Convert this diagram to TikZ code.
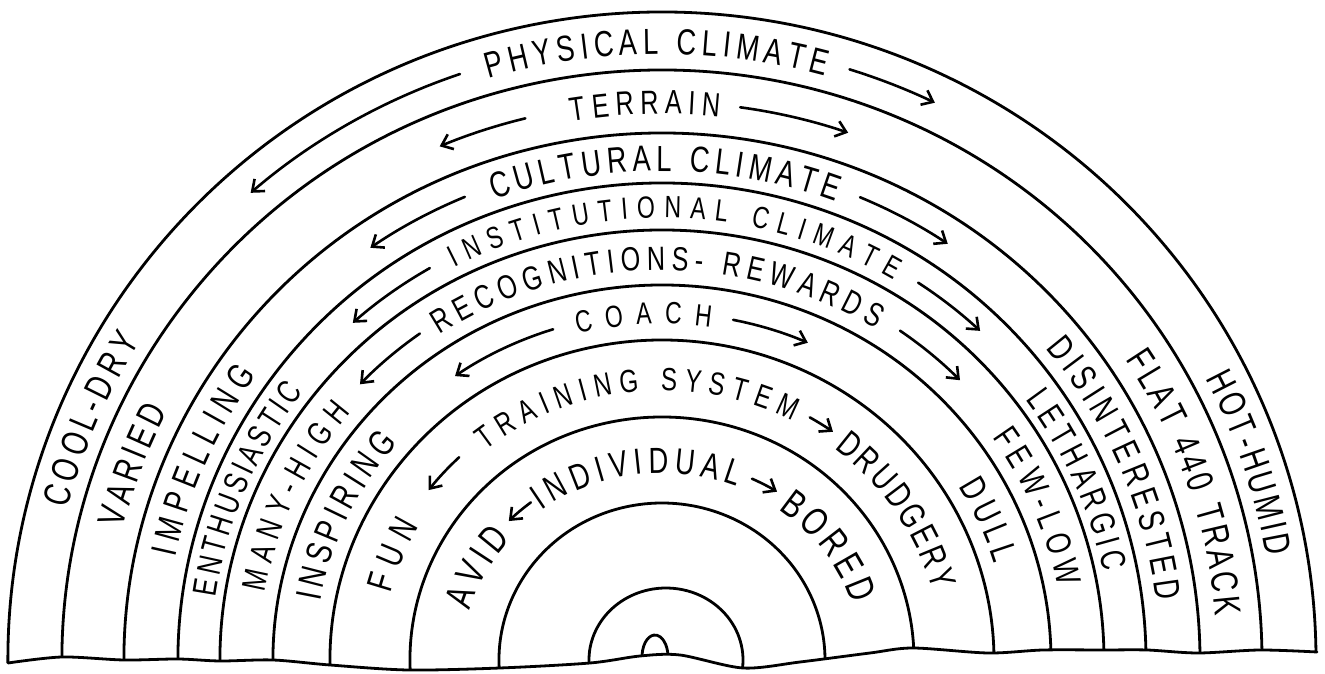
\documentclass[tikz,border=0pt]{standalone}
\usepackage{fontspec}
\setmainfont{Liberation Sans}[FakeStretch=0.75]
\usetikzlibrary{decorations.text,arrows.meta}
\tikzset{
  ring/.style={line width=2.8pt, line cap=round, line join=round},
  arr/.style={line width=2.6pt, line cap=round, -{Straight Barb[length=10pt,width=16pt]}},
}
\newcommand\ringlabel[6]{%
  \pgfmathsetmacro\rlx{#1-#5/2}\pgfmathsetmacro\rly{#2-#5/2}\pgfmathsetmacro\rlf{#5/0.716}%
  \path[decorate,decoration={text along path,text align={fit to path},
     text={|\fontsize{\rlf pt}{\rlf pt}\selectfont|#6}}]
     (#3:\rlx pt and \rly pt) arc[start angle=#3,end angle=#4,x radius=\rlx pt,y radius=\rly pt];}
\newcommand\ringarrow[4]{%
  \draw[arr] (#3:#1pt and #2pt) arc[start angle=#3,end angle=#4,x radius=#1pt,y radius=#2pt];}
\newcommand\ringarc[2]{%
  \draw[ring] (190:#1pt and #2pt) arc[start angle=190,end angle=-10,x radius=#1pt,y radius=#2pt];}
\begin{document}
\begin{tikzpicture}[x=1pt,y=1pt]
\useasboundingbox (0,0) rectangle (1325,674);
\begin{scope}
  \clip (0,674) -- (0,11) -- plot[smooth] coordinates {(8,11) (62,17) (124,14) (178,15) (220,13) (273,14) (330,9) (408,4) (500,6) (590,11) (640,18) (680,19) (743,6) (800,12) (870,21) (913,26) (988,21) (1043,24) (1103,24) (1147,24) (1198,21) (1260,24) (1317,22)} -- (1325,22) -- (1325,674) -- cycle;
  \begin{scope}[shift={(662,14)}]
    \ringarc{654}{648}
    \ringarc{600}{590}
    \ringarc{538}{527}
    \ringarc{484}{477}
    \ringarc{442}{430}
    \ringarc{389}{375}
    \ringarc{332}{320}
    \ringarc{252}{243}
    \ringarc{163}{157}
  \end{scope}
  \begin{scope}[shift={(666,14)}]
    \ringarc{77}{72}
  \end{scope}
  \begin{scope}[shift={(655,17)}]
    \draw[ring] (185:13pt and 22pt) arc[start angle=185,end angle=-5,x radius=13pt,y radius=22pt];
  \end{scope}
\end{scope}
\draw[ring] plot[smooth] coordinates {(8,11) (62,17) (124,14) (178,15) (220,13) (273,14) (330,9) (408,4) (500,6) (590,11) (640,18) (680,19) (743,6) (800,12) (870,21) (913,26) (988,21) (1043,24) (1103,24) (1147,24) (1198,21) (1260,24) (1317,22)};
\begin{scope}[shift={(662,14)}]
  \ringlabel{627}{619}{106.4}{74.6}{26}{PHYSICAL CLIMATE}
  \ringlabel{627}{619}{165.5}{148.3}{27}{COOL-DRY}
  \ringlabel{627}{619}{27.7}{9.8}{27}{HOT-HUMID}
  \ringlabel{569}{558}{99.3}{84.1}{24}{TERRAIN}
  \ringlabel{569}{558}{166}{152.8}{27}{VARIED}
  \ringlabel{569}{558}{33.5}{4.6}{27}{FLAT 440 TRACK}
  \ringlabel{511}{502}{109.7}{69.6}{26}{CULTURAL CLIMATE}
  \ringlabel{511}{502}{167.9}{144.4}{26}{IMPELLING}
  \ringlabel{511}{502}{39.6}{6.9}{26}{DISINTERESTED}
  \ringlabel{463}{453}{117.3}{59.2}{22}{INSTITUTIONAL CLIMATE}
  \ringlabel{463}{453}{171.8}{142.6}{24}{ENTHUSIASTIC}
  \ringlabel{463}{453}{36.3}{11.5}{25}{LETHARGIC}
  \ringlabel{415}{402}{123.5}{58}{24}{RECOGNITIONS- REWARDS}
  \ringlabel{415}{402}{170}{140.6}{24}{MANY-HIGH}
  \ringlabel{415}{402}{34.9}{10.8}{25}{FEW-LOW}
  \ringlabel{360}{347}{104}{82}{22}{COACH}
  \ringlabel{360}{347}{170}{139.6}{26}{INSPIRING}
  \ringlabel{360}{347}{31.2}{16.7}{26}{DULL}
  \ringlabel{293}{281}{128.9}{62.4}{23}{TRAINING SYSTEM}
  \ringlabel{293}{281}{165.6}{150.1}{26}{FUN}
  \ringlabel{293}{281}{52}{15}{26}{DRUDGERY}
  \ringlabel{213}{200}{126.9}{68}{26}{INDIVIDUAL}
  \ringlabel{213}{200}{164.6}{139.5}{28}{AVID}
  \ringlabel{213}{200}{54.1}{17.5}{28}{BORED}
  \ringarrow{627}{619}{108.8}{131}
  \ringarrow{627}{619}{72.6}{64.2}
  \ringarrow{569}{558}{103.9}{113}
  \ringarrow{569}{558}{82.1}{70.9}
  \ringarrow{511}{502}{112.7}{124.8}
  \ringarrow{511}{502}{67.2}{56}
  \ringarrow{463}{453}{120.1}{131.9}
  \ringarrow{463}{453}{56.4}{46.6}
  \ringarrow{415}{402}{125.7}{136.7}
  \ringarrow{415}{402}{55}{44.1}
  \ringarrow{360}{347}{107.6}{125.1}
  \ringarrow{360}{347}{78.6}{66.1}
  \ringarrow{293}{281}{133.8}{142.8}
  \ringarrow{293}{281}{59.7}{54.3}
  \ringarrow{213}{200}{128}{136}
  \ringarrow{213}{200}{65}{57.3}
\end{scope}
\end{tikzpicture}
\end{document}
